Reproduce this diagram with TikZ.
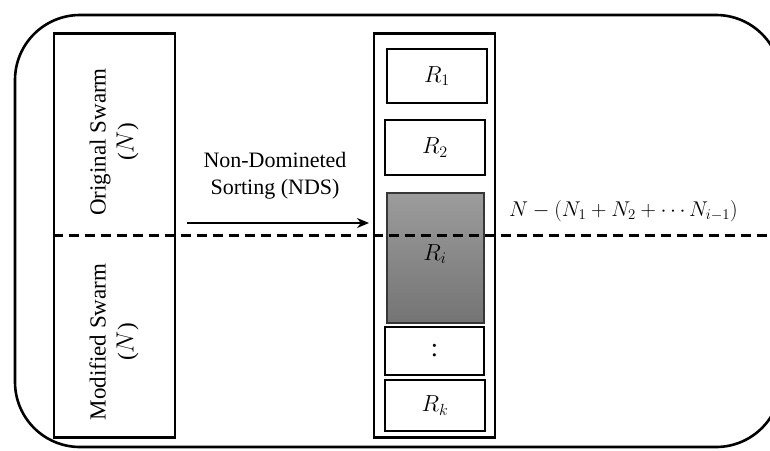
\documentclass[tikz,border=0pt]{standalone}
\usepackage{fontspec}
\setmainfont{Liberation Serif}
\usetikzlibrary{arrows.meta}
\definecolor{ritop}{RGB}{156,156,156}
\definecolor{ribot}{RGB}{116,116,116}
\definecolor{riedge}{RGB}{55,55,55}
\newcommand{\rlabel}[1]{\scalebox{1.12}{$#1$}}
\begin{document}
\begin{tikzpicture}[x=1pt,y=-1pt,
  box/.style={draw, line width=2.2pt, inner sep=0pt},
  rbox/.style={box, line width=2pt, font=\fontsize{22}{26}\selectfont},
  swarmtext/.style={rotate=90, align=center, font=\fontsize{23}{28}\selectfont},
]
\useasboundingbox (0,0) rectangle (770,450);
\clip (0,0) rectangle (770,450);

% outer frame
\draw[line width=2.6pt, rounded corners=65pt] (15,15) rectangle (781,447);

% swarm column
\node[box, minimum width=121pt, minimum height=404pt] (swarm) at (114.5,235.5) {};
\node[swarmtext] (orig) at (114,142) {Original Swarm\\($N$)};
\node[swarmtext] (modi) at (114,342) {Modified Swarm\\($N$)};

% sorting label and arrow
\node[align=center, font=\fontsize{22}{27}\selectfont] (nds) at (275,176) {Non-Domineted\\Sorting (NDS)};
\coordinate (a1) at (187,223);
\coordinate (a2) at (369,223);
\draw[line width=2.2pt, -{Stealth[length=12pt, width=10pt]}] (a1) -- (a2);

% ranked fronts
\node[box, minimum width=121pt, minimum height=404pt] (stack) at (434.5,235.5) {};
\node[rbox, minimum width=100pt, minimum height=54pt] (r1) at (437,76) {\rlabel{R_1}};
\node[rbox, minimum width=100pt, minimum height=55pt] (r2) at (435,147.5) {\rlabel{R_2}};
\node[rbox, draw=riedge, top color=ritop, bottom color=ribot, minimum width=97pt, minimum height=130pt] (ri) at (435.5,258) {};
\node[rbox, minimum width=99pt, minimum height=48pt] (rdots) at (434.5,351) {\fontsize{26}{30}\selectfont :};
\node[rbox, minimum width=100pt, minimum height=51pt] (rk) at (435,405.5) {\rlabel{R_k}};

% cut line
\coordinate (cutend) at (775,235.5);
\draw[line width=2.4pt, dash pattern=on 10pt off 6pt] (swarm.west) -- (cutend);
\node[font=\fontsize{22}{26}\selectfont] (rilabel) at (435,254) {\rlabel{R_i}};

% remaining count
\node[font=\fontsize{22}{26}\selectfont, anchor=base west, inner sep=0pt] (rest) at (509,216) {\scalebox{1.03}{$N-(N_1+N_2+\cdots N_{i-1})$}};
\end{tikzpicture}
\end{document}
